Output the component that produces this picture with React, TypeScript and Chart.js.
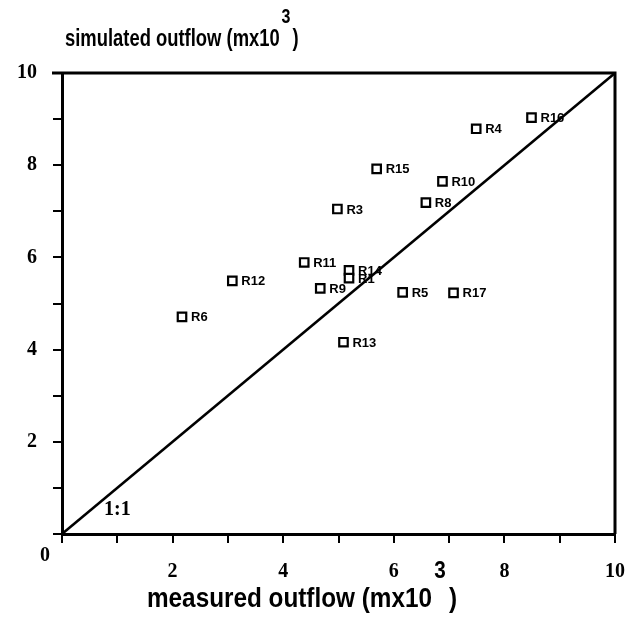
import React, { useEffect, useRef } from 'react';
import { Chart, registerables } from 'chart.js';

Chart.register(...registerables);

// ---- data ----
const pointLabels = ['R16', 'R4', 'R15', 'R10', 'R3', 'R8', 'R11', 'R12', 'R14', 'R1', 'R9', 'R6', 'R5', 'R17', 'R13'];
const measured = [8.49, 7.49, 5.69, 6.88, 4.98, 6.58, 4.38, 3.08, 5.19, 5.19, 4.67, 2.17, 6.16, 7.08, 5.09];
const simulated = [9.03, 8.79, 7.92, 7.65, 7.05, 7.19, 5.89, 5.49, 5.72, 5.55, 5.33, 4.71, 5.24, 5.23, 4.16];
const oneToOneX = [0, 10];
const oneToOneY = [0, 10];
const axisMin = 0;
const axisMax = 10;
const labelledTicks = ['2', '4', '6', '8', '10'];
const xTitle = 'measured outflow (mx10';
const yTitle = 'simulated outflow (mx10';
const titleSup = '3';
const lineLabel = '1:1';
const originLabel = '0';

const SERIF = '"Liberation Serif", "DejaVu Serif", serif';
const SANS = '"Liberation Sans", Arial, sans-serif';

function drawTitle(
  ctx: CanvasRenderingContext2D,
  text: string,
  x: number,
  y: number,
  size: number,
  squeeze: number,
  raise: number
) {
  ctx.save();
  ctx.translate(x, y);
  ctx.scale(squeeze, 1);
  ctx.fillStyle = '#000';
  ctx.textBaseline = 'middle';
  ctx.textAlign = 'left';
  ctx.font = `bold ${size}px ${SANS}`;
  ctx.fillText(text, 0, 0);
  const w = ctx.measureText(text).width;
  ctx.font = `bold ${Math.round(size * 0.85)}px ${SANS}`;
  ctx.fillText(titleSup, w + size * 0.1, -raise);
  ctx.font = `bold ${size}px ${SANS}`;
  ctx.fillText(')', w + size * 0.7, 0);
  ctx.restore();
}

const decorPlugin = {
  id: 'decor',
  afterDatasetsDraw(chart: any) {
    const ctx: CanvasRenderingContext2D = chart.ctx;
    const meta = chart.getDatasetMeta(1);
    ctx.save();
    ctx.fillStyle = '#000';
    ctx.font = `bold 13px ${SANS}`;
    ctx.textBaseline = 'middle';
    ctx.textAlign = 'left';
    meta.data.forEach((pt: any, i: number) => {
      ctx.fillText(pointLabels[i], pt.x + 9, pt.y + 1);
    });
    ctx.restore();
  },
  afterDraw(chart: any) {
    const ctx: CanvasRenderingContext2D = chart.ctx;
    const a = chart.chartArea;
    const xs = chart.scales.x;
    const ys = chart.scales.y;
    ctx.save();
    ctx.strokeStyle = '#000';
    ctx.lineWidth = 3;
    ctx.beginPath();
    ctx.moveTo(a.left - 10, a.top);
    ctx.lineTo(a.right, a.top);
    ctx.lineTo(a.right, a.bottom);
    ctx.stroke();
    // 1:1 label
    ctx.fillStyle = '#000';
    ctx.font = `bold 20px ${SERIF}`;
    ctx.textBaseline = 'middle';
    ctx.textAlign = 'left';
    ctx.fillText(lineLabel, xs.getPixelForValue(0.76), ys.getPixelForValue(0.52));
    // origin label
    ctx.textAlign = 'center';
    ctx.fillText(originLabel, a.left - 17, a.bottom + 22);
    ctx.restore();
    drawTitle(ctx, yTitle, a.left + 3, 40, 23, 0.8, 23);
    drawTitle(ctx, xTitle, a.left + 85, 600, 27, 0.9, 28);
  },
};

const tickCb = (v: any) => {
  const s = String(v);
  return labelledTicks.includes(s) ? s : '';
};

export default function App() {
  const ref = useRef<HTMLCanvasElement | null>(null);
  useEffect(() => {
    if (!ref.current) return;
    const axisCommon = {
      type: 'linear' as const,
      min: axisMin,
      max: axisMax,
      grid: { drawOnChartArea: false, drawTicks: true, tickLength: 9, color: '#000', lineWidth: 2 },
      border: { color: '#000', width: 3 },
    };
    const chart = new Chart(ref.current, {
      type: 'scatter',
      data: {
        datasets: [
          {
            type: 'line',
            data: oneToOneX.map((x, i) => ({ x, y: oneToOneY[i] })),
            borderColor: '#000',
            borderWidth: 2.5,
            pointRadius: 0,
            fill: false,
          } as any,
          {
            data: measured.map((x, i) => ({ x, y: simulated[i] })),
            pointStyle: 'rect',
            pointRadius: 6,
            pointBorderWidth: 2.2,
            borderColor: '#000',
            backgroundColor: '#fff',
          },
        ],
      },
      options: {
        animation: false,
        responsive: true,
        maintainAspectRatio: false,
        layout: { padding: { top: 73, right: 12, left: 0, bottom: 0 } },
        plugins: { legend: { display: false }, tooltip: { enabled: false }, title: { display: false } },
        scales: {
          x: {
            ...axisCommon,
            position: 'bottom',
            afterFit: (s: any) => { s.height = 91; },
            ticks: {
              stepSize: 1,
              autoSkip: false,
              maxRotation: 0,
              padding: 17,
              color: '#000',
              font: { family: SERIF, size: 20, weight: 'bold' },
              callback: tickCb,
            },
          },
          y: {
            ...axisCommon,
            position: 'left',
            afterFit: (s: any) => { s.width = 62; },
            ticks: {
              stepSize: 1,
              autoSkip: false,
              padding: 16,
              color: '#000',
              font: { family: SERIF, size: 20, weight: 'bold' },
              callback: tickCb,
            },
          },
        },
      },
      plugins: [decorPlugin],
    });
    return () => chart.destroy();
  }, []);
  return (
    <div style={{ position: 'absolute', left: 0, top: 0, width: 642, height: 625, background: '#fff' }}>
      <canvas ref={ref} />
    </div>
  );
}
